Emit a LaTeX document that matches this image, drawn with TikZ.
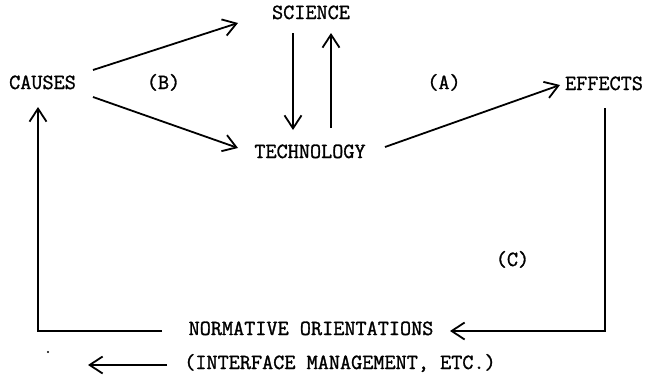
\documentclass[tikz,border=0pt]{standalone}
\usepackage{fontspec}
\newfontfamily\typewriter{Latin Modern Mono}[FakeBold=1.3]
\usetikzlibrary{arrows.meta,calc}
\begin{document}
\begin{tikzpicture}[x=1pt,y=-1pt,
  lbl/.style={anchor=base,inner sep=0pt,font=\typewriter\fontsize{21.6}{24}\selectfont},
  flow/.style={line width=1.8pt,-{Straight Barb[length=13pt,width=17pt,line width=1.8pt]}}]
\useasboundingbox (0,0) rectangle (646,375);
% labels
\node[lbl] (causes)  at (42.5,89) {CAUSES};
\node[lbl] (science) at (311,19)  {SCIENCE};
\node[lbl] (tech)    at (310,158) {TECHNOLOGY};
\node[lbl] (effects) at (604,90)  {EFFECTS};
\node[lbl] (labB)    at (163.5,89) {(B)};
\node[lbl] (labA)    at (444,89)  {(A)};
\node[lbl] (labC)    at (512.5,266) {(C)};
\node[lbl] (norm)    at (311,335) {NORMATIVE ORIENTATIONS};
\node[lbl] (iface)   at (340,369) {(INTERFACE MANAGEMENT, ETC.)};
% connectors
\draw[flow] ($(causes.base)+(50.5,-19)$) -- ($(science.base)+(-73,4)$);
\draw[flow] ($(causes.base)+(50.5,8)$) -- ($(tech.base)+(-72,-10)$);
\draw[flow] ($(science.base)+(-18,14)$) -- ($(tech.base)+(-17,-28)$);
\draw[flow] ($(tech.base)+(21,-30)$) -- ($(science.base)+(20,14)$);
\draw[flow] ($(tech.base)+(75,-11)$) -- ($(effects.base)+(-44,-5)$);
\draw[flow] ($(effects.base)+(1,18)$) |- ($(norm.base)+(139,-4)$);
\draw[flow] ($(norm.base)+(-149,-4)$) -| ($(causes.base)+(-4.5,18)$);
\coordinate (ifaceTip) at ($(iface.base)+(-252,-4)$);
\draw[flow] ($(iface.base)+(-173,-4)$) -- (ifaceTip);
% stray dot
\fill (48,352) circle (1.2);
\end{tikzpicture}
\end{document}
